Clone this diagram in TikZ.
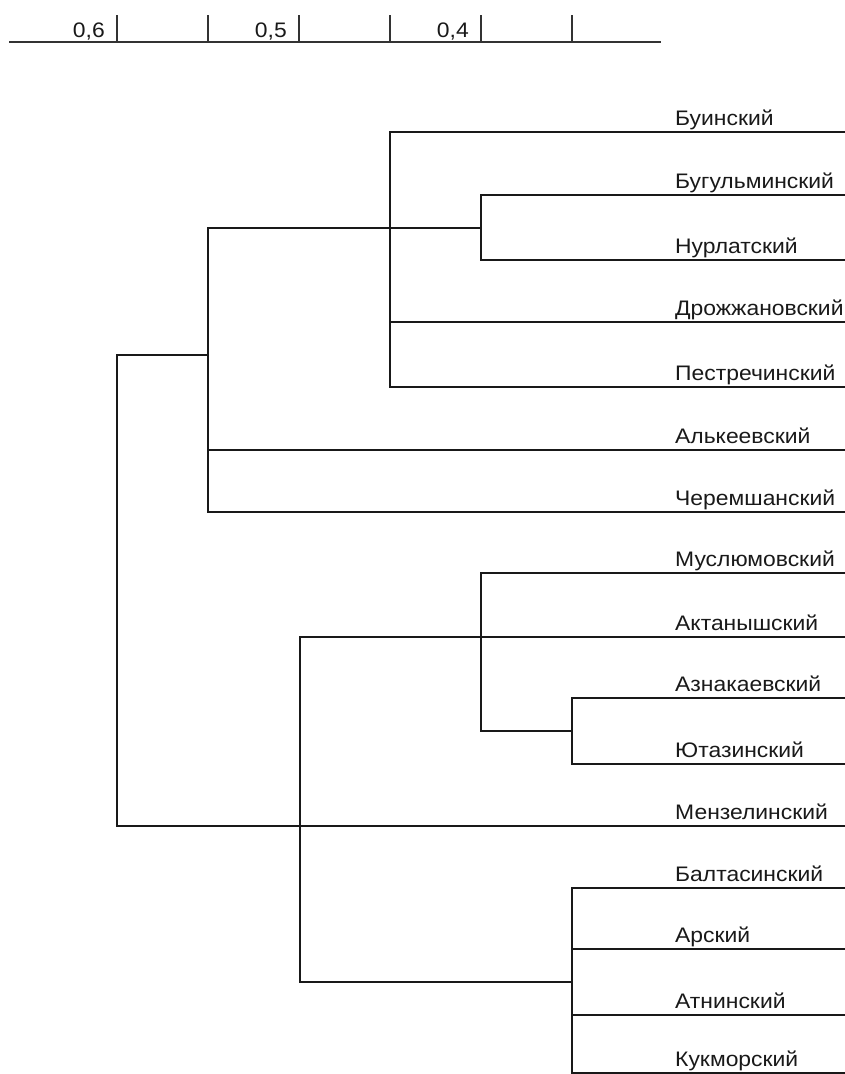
\documentclass[tikz,border=0pt]{standalone}
\usepackage{fontspec}
\setmainfont{Liberation Sans}
\newcommand{\wtxt}[1]{\scalebox{1.09}[1]{#1}}
\begin{document}
\begin{tikzpicture}[x=1pt,y=-1pt,
  edge/.style={line width=2pt,line cap=rect,draw=black!90},
  tickline/.style={line width=1.6pt,draw=black!80},
  leaf/.style={anchor=base west,inner sep=0pt,font=\fontsize{21}{25}\selectfont,text=black!90},
  scalelbl/.style={anchor=base east,inner sep=0pt,font=\fontsize{21}{25}\selectfont,text=black!90}]
\useasboundingbox (0,0) rectangle (845,1074);
% scale bar
\coordinate (s0) at (9,42);
\coordinate (s1) at (661,42);
\draw[tickline] (s0) -- (s1);
\foreach \x/\n in {117/k1,208/k2,299/k3,390/k4,481/k5,572/k6}{
  \coordinate (\n) at (\x,15);
  \draw[tickline] (\n) -- (\n |- s0);
}
\node[scalelbl] (v6) at (105,37) {\wtxt{0,6}};
\node[scalelbl] (v5) at (287,37) {\wtxt{0,5}};
\node[scalelbl] (v4) at (469,37) {\wtxt{0,4}};
% leaves
\foreach \i/\y/\t in {1/132/Буинский,2/195/Бугульминский,3/260/Нурлатский,4/322/Дрожжановский,5/387/Пестречинский,6/450/Алькеевский,7/512/Черемшанский,8/573/Муслюмовский,9/637/Актанышский,10/698/Азнакаевский,11/764/Ютазинский,12/826/Мензелинский,13/888/Балтасинский,14/949/Арский,15/1015/Атнинский,16/1073/Кукморский}{
  \coordinate (t\i) at (845,\y);
  \node[leaf] (n\i) at (675,\y-7) {\wtxt{\t}};
}
% internal nodes
\coordinate (nA) at (481,227.5);
\coordinate (nB) at (390,227.5);
\coordinate (nC) at (208,355);
\coordinate (nR) at (117,826);
\coordinate (nD) at (572,731);
\coordinate (nE) at (481,637);
\coordinate (nF) at (572,982);
\coordinate (nG) at (300,982);
% upper cluster
\draw[edge] (t2) -| (nA) |- (t3);
\draw[edge] (t1) -| (nB) |- (t5);
\draw[edge] (t4) -- (nB |- t4);
\draw[edge] (nA) -| (nC) |- (t7);
\draw[edge] (t6) -- (nC |- t6);
% root
\draw[edge] (nC) -| (nR) -- (t12);
% lower cluster
\draw[edge] (t10) -| (nD) |- (t11);
\draw[edge] (t8) -| (nE) |- (nD);
\draw[edge] (t9) -| (nG) -- (nF);
\draw[edge] (t13) -| (nF) |- (t16);
\draw[edge] (t14) -- (nF |- t14);
\draw[edge] (t15) -- (nF |- t15);
\end{tikzpicture}
\end{document}
